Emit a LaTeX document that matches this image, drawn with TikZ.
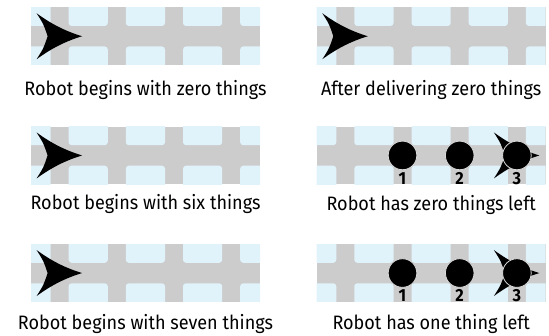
\documentclass[tikz,border=0pt]{standalone}
\usepackage{fontspec}
\setmainfont[FakeStretch=0.93]{Fira Sans}
\usepackage{tikz}
\usetikzlibrary{positioning,calc}

\definecolor{floorblue}{HTML}{E0F2FA}
\definecolor{aislegray}{HTML}{CCCCCC}

\begin{document}
\begin{tikzpicture}[
    x=1pt, y=-1pt,
    caption/.style={anchor=base, font=\fontsize{19.4}{22}\selectfont},
    thing/.style={circle, fill=black, draw=black!15, line width=0.8pt,
        minimum size=28.6pt, inner sep=0pt},
    slot/.style={anchor=base, inner sep=0pt, font=\fontsize{17.5}{19}\selectfont\bfseries},
    robot/.pic={
        \fill[black] (22.5,0) .. controls (6,-5) and (-8,-12) .. (-23,-23)
            .. controls (-16,-12) .. (-12,0)
            .. controls (-16,12) .. (-23,23)
            .. controls (-8,12) and (6,5) .. (22.5,0) -- cycle;
    }
]
    \useasboundingbox (0,0) rectangle (549,336);

    % Track strips, left column then right column, row by row
    \foreach \px/\py [count=\i] in {31/7.5, 316.7/7.5, 31/126.7,
                                    316.7/126.7, 31/244.3, 316.7/244.3} {
        \coordinate (s\i) at (\px,\py);
        \begin{scope}[shift={(\px,\py)}]
            \fill[aislegray] (0,0) rectangle (229,57.5);
            \clip (0,0) rectangle (229,57.5);
            % floor cells between the aisles
            \foreach \cx in {-28.6, 28.6, 85.8, 143, 200.2} {
                \fill[floorblue, rounded corners=3pt]
                    (\cx+9,-6) rectangle (\cx+57.2-9,18.5);
                \fill[floorblue, rounded corners=3pt]
                    (\cx+9,39) rectangle (\cx+57.2-9,63.5);
            }
        \end{scope}
    }

    % Robots waiting at the first aisle
    \foreach \i in {1,2,3,5} {
        \pic at ($(s\i)+(28.6,28.75)$) {robot};
    }

    % Things dropped off along the way
    \foreach \i in {4,6} {
        \node[thing] (one\i) at ($(s\i)+(85.8,28.75)$) {};
        \node[thing] (two\i) at ($(s\i)+(143,28.75)$) {};
        \pic at ($(s\i)+(200.2,28.75)$) {robot};
        \node[thing] (bot\i) at ($(s\i)+(200.2,28.75)$) {};
        \node[slot] at ($(s\i)+(85.8,57.5)$) {1};
        \node[slot] at ($(s\i)+(143,57.5)$) {2};
        \node[slot] at ($(s\i)+(200.2,57.5)$) {3};
    }

    % Captions
    \node[caption] (cap1) at ($(s1)+(114.5,88.5)$) {Robot begins with zero things};
    \node[caption] (cap2) at ($(s2)+(114.5,88.5)$) {After delivering zero things};
    \node[caption] (cap3) at ($(s3)+(114.5,82.5)$) {Robot begins with six things};
    \node[caption] (cap4) at ($(s4)+(114.5,83.5)$) {Robot has zero things left};
    \node[caption] (cap5) at ($(s5)+(114.5,85.7)$) {Robot begins with seven things};
    \node[caption] (cap6) at ($(s6)+(114.5,85.7)$) {Robot has one thing left};
\end{tikzpicture}
\end{document}
